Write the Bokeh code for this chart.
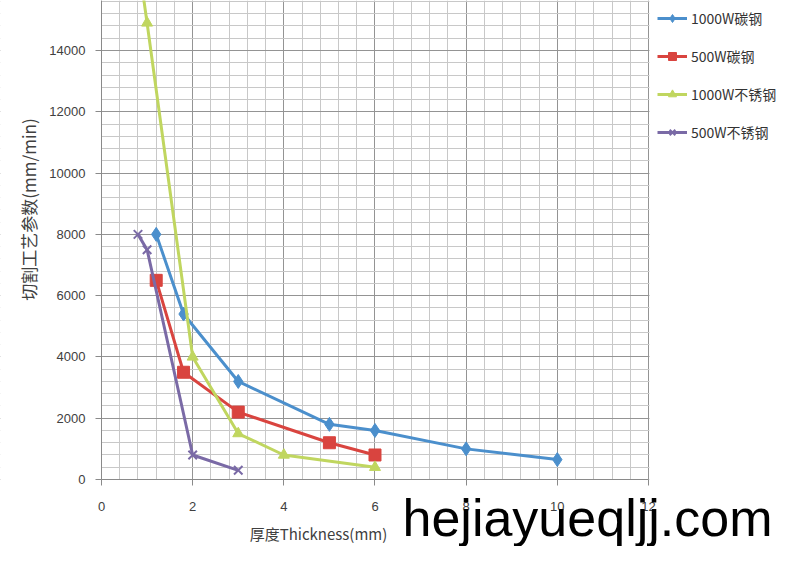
import math

from bokeh.plotting import figure
from bokeh.models import Range1d, SingleIntervalTicker, Legend, Label, BoxAnnotation
from bokeh.embed import file_html
from bokeh.resources import INLINE

# 1000W carbon steel
cs1000_t = [1.2, 1.8, 3, 5, 6, 8, 10]
cs1000_v = [8000, 5400, 3200, 1800, 1600, 1000, 650]
# 500W carbon steel
cs500_t = [1.2, 1.8, 3, 5, 6]
cs500_v = [6500, 3500, 2200, 1200, 800]
# 1000W stainless
ss1000_t = [0.8, 1, 2, 3, 4, 6]
ss1000_v = [17000, 14900, 4000, 1500, 800, 400]
# 500W stainless
ss500_t = [0.8, 1, 2, 3]
ss500_v = [8000, 7500, 800, 300]

names = ["1000W碳钢", "500W碳钢", "1000W不锈钢", "500W不锈钢"]

FONT = "Noto Sans CJK SC"
TICK_FONT = "Liberation Sans"
W, H = 784, 546

# frame covers the whole canvas, axes are pinned at 0 so that the
# legend and the texts outside the plot area are not clipped
p = figure(
    width=W, height=H,
    x_range=Range1d(-2.216, 14.984), y_range=Range1d(-2186, 15632),
    output_backend="svg", toolbar_location=None,
    min_border=0,
)
p.outline_line_color = None

p.xaxis.ticker = SingleIntervalTicker(interval=2, num_minor_ticks=5)
p.yaxis.ticker = SingleIntervalTicker(interval=2000, num_minor_ticks=5)
p.xaxis.fixed_location = 0
p.yaxis.fixed_location = 0
p.xaxis.bounds = (0, 12)
p.yaxis.bounds = (0, 15632)

p.xgrid.bounds = (0, 12)
p.ygrid.bounds = (0, 15632)
p.xgrid.grid_line_color = "#949494"
p.ygrid.grid_line_color = "#949494"
p.xgrid.minor_grid_line_color = "#c8c8c8"
p.ygrid.minor_grid_line_color = "#c8c8c8"

# white out the grid outside the plot area
for kw in (dict(right=0), dict(left=12.02), dict(top=0)):
    p.add_layout(BoxAnnotation(fill_color="white", fill_alpha=1,
                               line_color=None, level="underlay", **kw))

for ax in (p.xaxis, p.yaxis):
    ax.axis_line_color = "#8a8a8a"
    ax.major_tick_line_color = "#8a8a8a"
    ax.minor_tick_line_color = None
    ax.major_tick_in = 0
    ax.major_tick_out = 6
    ax.major_label_text_font = TICK_FONT
    ax.major_label_text_font_size = "13px"
    ax.major_label_text_color = "#404040"
p.xaxis.major_label_standoff = 16
p.yaxis.major_label_standoff = 10

series = [
    (cs1000_t, cs1000_v, "#4b8fcc", "diamond", 14),
    (cs500_t, cs500_v, "#d9443f", "square", 12),
    (ss1000_t, ss1000_v, "#c0d65f", "triangle", 11),
    (ss500_t, ss500_v, "#7a6aa6", "x", 12),
]

items = []
for (t, v, color, marker, size), name in zip(series, names):
    ln = p.line(t, v, line_color=color, line_width=3)
    sc = p.scatter(t, v, marker=marker, size=size, fill_color=color,
                   line_color=color, line_width=2 if marker == "x" else 1)
    items.append((name, [ln, sc]))

legend = Legend(items=items, location=(657, H - 8 - 134))
legend.border_line_color = None
legend.background_fill_alpha = 0
legend.padding = 0
legend.margin = 0
legend.spacing = 18
legend.glyph_width = 30
legend.glyph_height = 20
legend.label_height = 20
legend.label_standoff = 4
legend.label_text_font = FONT
legend.label_text_font_size = "14px"
legend.label_text_color = "#333333"
p.add_layout(legend, "center")

p.add_layout(Label(x=28, y=H - 209, x_units="screen", y_units="screen",
                   text="切割工艺参数(mm/min)", angle=math.pi / 2,
                   text_align="center", text_baseline="middle",
                   text_font=FONT, text_font_size="17px",
                   text_color="#404040"))
p.add_layout(Label(x=318, y=H - 533, x_units="screen", y_units="screen",
                   text="厚度Thickness(mm)",
                   text_align="center", text_baseline="middle",
                   text_font=FONT, text_font_size="15px",
                   text_color="#404040"))
p.add_layout(Label(x=402, y=H - 517, x_units="screen", y_units="screen",
                   text="hejiayueqljj.com",
                   text_align="left", text_baseline="middle",
                   text_font="Liberation Sans", text_font_size="52px",
                   text_color="#000000"))

open("out.html", "w").write(file_html(p, INLINE))
